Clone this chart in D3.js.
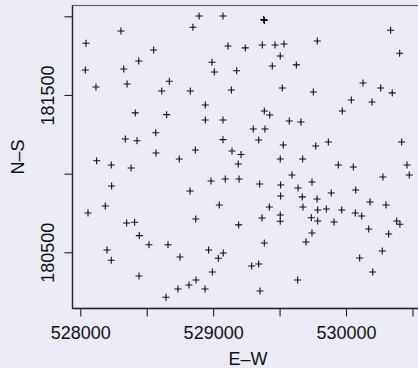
<!DOCTYPE html>
<html>
<head>
<meta charset="utf-8">
<script src="https://cdn.jsdelivr.net/npm/d3@7"></script>
<style>
  html, body { margin: 0; padding: 0; background: #ebebf5; }
  svg text { font-family: "Liberation Sans", Arial, sans-serif; fill: #111; }
</style>
</head>
<body>
<div id="plot"></div>
<script>
// E-W / N-S coordinates of the points
const ew = [528894, 529074, 528306, 528848, 528043, 529112, 528552, 528440, 528991, 528038,
  528327, 529009, 529177, 528118, 528352, 528670, 528613, 528828, 529137, 528941,
  528414, 528650, 528941, 529074, 528568, 528339, 528427, 529074, 528570, 528866,
  529142, 529380, 529386, 530336, 529784, 529242, 529370, 529466, 529533, 530404,
  529505, 529445, 529626, 529520, 529754, 530128, 530261, 530348, 530040, 530196,
  529972, 529385, 529426, 529573, 529661, 529302, 529390, 529343, 529528, 529772,
  529867, 530419, 529210, 528123, 528233, 528382, 528745, 529189, 528236, 528984,
  529091, 529195, 528826, 528188, 528058, 529046, 528869, 528349, 528409, 529192,
  528444, 528517, 528660, 528201, 528233, 528966, 528750, 529076, 529039, 528994,
  528442, 528871, 528818, 528735, 528939, 528645, 529505, 529674, 529942, 530055,
  530459, 530476, 530278, 529593, 529350, 529508, 529744, 529639, 530073, 529508,
  529671, 529782, 529889, 530181, 530301, 529423, 529676, 529787, 529852, 529968,
  530070, 530118, 529368, 529505, 529505, 529739, 529787, 529910, 530382, 530406,
  530171, 530321, 529744, 529699, 529385, 530273, 530103, 529290, 529343, 530201,
  529636, 529353];
const ns = [182002, 182002, 181907, 181930, 181829, 181811, 181786, 181716, 181708, 181659,
  181665, 181646, 181654, 181551, 181570, 181587, 181525, 181525, 181532, 181436,
  181386, 181375, 181341, 181341, 181260, 181220, 181209, 181216, 181131, 181150,
  181144, 181980, 181974, 181911, 181843, 181799, 181818, 181818, 181824, 181765,
  181748, 181684, 181691, 181544, 181519, 181576, 181544, 181513, 181468, 181455,
  181398, 181398, 181373, 181335, 181328, 181284, 181284, 181214, 181182, 181176,
  181201, 181201, 181122, 181082, 181055, 181036, 181093, 181061, 180921, 180953,
  180966, 180966, 180890, 180794, 180750, 180801, 180712, 180686, 180691, 180674,
  180606, 180548, 180548, 180515, 180449, 180515, 180470, 180496, 180462, 180375,
  180349, 180324, 180292, 180267, 180267, 180214, 181093, 181093, 181055, 181042,
  181055, 180991, 180979, 180991, 180934, 180928, 180947, 180909, 180896, 180858,
  180852, 180839, 180877, 180820, 180801, 180788, 180788, 180769, 180775, 180769,
  180750, 180731, 180718, 180737, 180697, 180720, 180699, 180693, 180699, 180678,
  180648, 180616, 180623, 180565, 180559, 180508, 180464, 180413, 180426, 180375,
  180324, 180254];

const xTicks = [528000, 528500, 529000, 529500, 530000, 530500];
const yTicks = [180500, 181000, 181500, 182000];
const xLabels = [528000, 529000, 530000];
const yLabels = [180500, 181500];

const width = 418, height = 368;
const panel = { left: 72.5, top: 5.5, bottom: 308.5, right: 430 };

const svg = d3.select("#plot")
  .append("svg")
  .attr("width", width)
  .attr("height", height);

const x = d3.scaleLinear().domain([528000, 530000]).range([80.3, 346]);
const y = d3.scaleLinear().domain([180500, 182000]).range([252.3, 16.3]);

// panel frame
svg.append("rect")
  .attr("x", panel.left)
  .attr("y", panel.top)
  .attr("width", panel.right - panel.left)
  .attr("height", panel.bottom - panel.top)
  .attr("fill", "none")
  .attr("stroke", "#666")
  .attr("stroke-width", 1.2);

// axes
const xAxis = svg.append("g")
  .attr("transform", "translate(0," + panel.bottom + ")")
  .call(d3.axisBottom(x).tickValues(xTicks).tickSize(8).tickPadding(10)
    .tickFormat(d => xLabels.includes(d) ? d : ""));
const yAxis = svg.append("g")
  .attr("transform", "translate(" + panel.left + ",0)")
  .call(d3.axisLeft(y).tickValues(yTicks).tickSize(8).tickPadding(19)
    .tickFormat(d => yLabels.includes(d) ? d : ""));

[xAxis, yAxis].forEach(a => {
  a.select(".domain").remove();
  a.selectAll(".tick line").attr("stroke", "#222").attr("stroke-width", 1.1);
  a.selectAll(".tick text").style("font-size", "18px").attr("fill", "#111");
});
yAxis.selectAll(".tick text")
  .attr("text-anchor", "middle")
  .attr("x", null).attr("dy", null)
  .attr("transform", "translate(-19,0) rotate(-90)");

svg.append("line")
  .attr("x1", panel.left).attr("x2", panel.left)
  .attr("y1", panel.top).attr("y2", panel.bottom)
  .attr("stroke", "#222").attr("stroke-width", 1.3);
svg.append("line")
  .attr("x1", panel.left).attr("x2", panel.right)
  .attr("y1", panel.bottom).attr("y2", panel.bottom)
  .attr("stroke", "#222").attr("stroke-width", 1.3);

// axis titles
svg.append("text")
  .attr("x", 248).attr("y", 364.5)
  .attr("text-anchor", "middle")
  .style("font-size", "18px")
  .text("E\u2013W");
svg.append("text")
  .attr("transform", "translate(23.5,157) rotate(-90)")
  .attr("text-anchor", "middle")
  .style("font-size", "18px")
  .text("N\u2013S");

// points as "+"
const pts = ew.map((e, i) => ({ e: e, n: ns[i] }));
svg.append("g")
  .selectAll("path")
  .data(pts)
  .enter()
  .append("path")
  .attr("d", d => {
    const px = x(d.e), py = y(d.n);
    return "M" + (px - 3.5) + "," + py + "H" + (px + 3.5) +
      "M" + px + "," + (py - 3.5) + "V" + (py + 3.5);
  })
  .attr("stroke", "#111")
  .attr("stroke-width", 1.1)
  .attr("fill", "none");
</script>
</body>
</html>
